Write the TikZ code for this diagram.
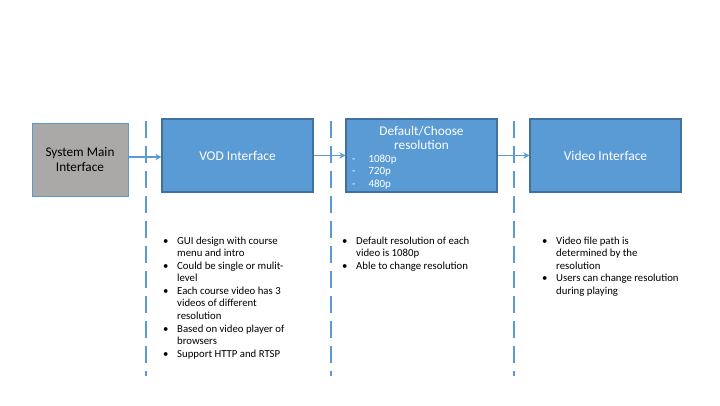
\documentclass[tikz,border=0pt]{standalone}
\usepackage{fontspec}
\setmainfont{Carlito}
\usetikzlibrary{arrows.meta}
\definecolor{boxblue}{HTML}{5B9BD5}
\definecolor{boxedge}{HTML}{41719C}
\definecolor{boxgray}{HTML}{ABA8A8}
\tikzset{
  bluebox/.style={draw=boxedge, line width=1.2bp, fill=boxblue, minimum width=151bp, minimum height=73bp, inner sep=0pt, text=white, font=\fontsize{13.5}{15}\selectfont, align=center},
  graybox/.style={draw=boxblue, line width=0.8bp, fill=boxgray, minimum width=96bp, minimum height=73bp, inner sep=0pt, text=black, font=\fontsize{13.3}{16}\selectfont, align=center},
  sep/.style={draw=boxblue, line width=2.2bp, dash pattern=on 17bp off 8bp},
  conn/.style={draw=boxblue, line width=1.8bp, -{Stealth[length=6bp,width=6.5bp]}},
  notes/.style={anchor=north west, inner sep=0pt, font=\fontsize{10.8}{12.6}\selectfont, align=left},
}
\newcommand{\bul}{\makebox[14bp][l]{\textbullet}}
\newcommand{\ind}{\hspace*{14bp}}
\begin{document}
\begin{tikzpicture}[x=1bp,y=-1bp]
\useasboundingbox[fill=white] (0,0) rectangle (720,405);
% separators
\coordinate (s1t) at (146,121); \coordinate (s1b) at (146,376);
\coordinate (s2t) at (331,121); \coordinate (s2b) at (331,376);
\coordinate (s3t) at (514,121); \coordinate (s3b) at (514,376);
\draw[sep] (s1t) -- (s1b);
\draw[sep] (s2t) -- (s2b);
\draw[sep] (s3t) -- (s3b);
% boxes
\node[graybox] (sys) at (80,159.5) {System Main\\Interface};
\node[bluebox] (vod) at (237.5,155.5) {\raisebox{-2bp}{VOD Interface}};
\node[bluebox] (res) at (421.5,155.5) {};
\node[bluebox] (vid) at (605.5,155.5) {\raisebox{-2bp}{Video Interface}};
\node[text=white, font=\fontsize{13.3}{14}\selectfont, align=center, inner sep=0pt] (restitle) at (421.5,138) {Default/Choose\\resolution};
\node[text=white, font=\fontsize{11}{12.5}\selectfont, align=left, inner sep=0pt, anchor=north west] (reslist) at (352,154.5) {-\hspace*{13bp}1080p\\-\hspace*{13bp}720p\\-\hspace*{13bp}480p};
% connectors
\draw[conn] (sys.east |- 0,157) -- (vod.west |- 0,157);
\draw[conn] (vod.east) -- (res.west);
\draw[conn] (res.east) -- (vid.west);
% notes
\node[notes] (n1) at (163,236.5) {\bul GUI design with course\\\ind menu and intro\\\bul Could be single or mulit-\\\ind level\\\bul Each course video has 3\\\ind videos of different\\\ind resolution\\\bul Based on video player of\\\ind browsers\\\bul Support HTTP and RTSP};
\node[notes] (n2) at (342,236.5) {\bul Default resolution of each\\\ind video is 1080p\\\bul Able to change resolution};
\node[notes] (n3) at (542,236.5) {\bul Video file path is\\\ind determined by the\\\ind resolution\\\bul Users can change resolution\\\ind during playing};
\end{tikzpicture}
\end{document}
